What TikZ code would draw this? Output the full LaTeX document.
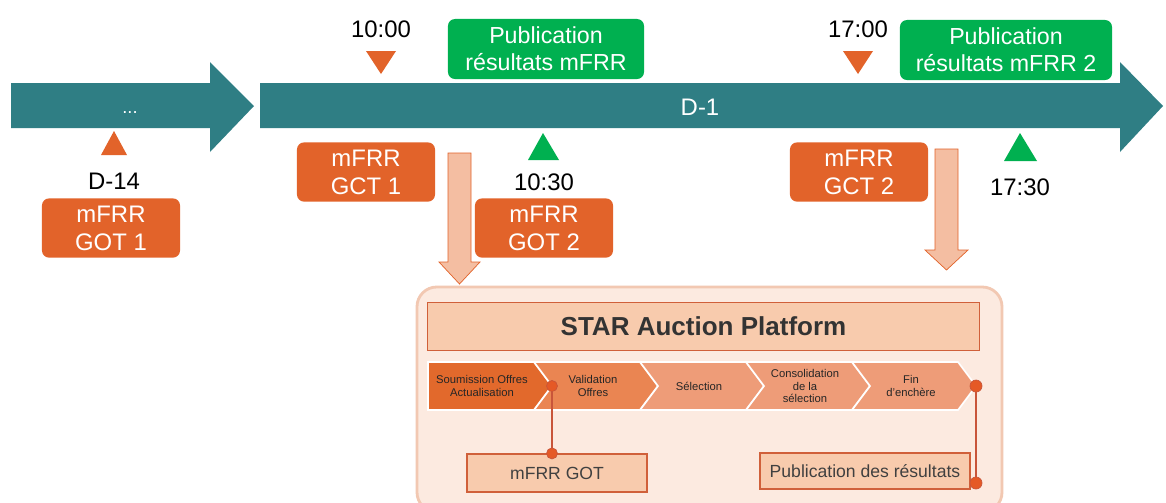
\documentclass[tikz,border=0pt]{standalone}
\usepackage{fontspec}
\setmainfont{Liberation Sans}
\usetikzlibrary{positioning}

\definecolor{barteal}{HTML}{2F7E84}
\definecolor{rteorange}{HTML}{E2632A}
\definecolor{rtegreen}{HTML}{00B050}
\definecolor{salmon}{HTML}{F4BEA2}
\definecolor{peach}{HTML}{FCEAE0}
\definecolor{peachedge}{HTML}{F2C8B2}
\definecolor{lightbox}{HTML}{F8CBAD}
\definecolor{boxedge}{HTML}{D0603A}
\definecolor{linkred}{HTML}{C8553A}
\definecolor{chevA}{HTML}{E2692C}
\definecolor{chevB}{HTML}{EA8552}
\definecolor{chevC}{HTML}{EE9C78}

\tikzset{
  timebar/.style={fill=barteal},
  bartext/.style={text=white, font=\fontsize{17}{19}\selectfont},
  orbox/.style={fill=rteorange, rounded corners=5pt, text=white, align=center,
    minimum width=3.45cm, minimum height=1.48cm, inner sep=0pt,
    font=\fontsize{17}{20}\selectfont},
  grbox/.style={fill=rtegreen, rounded corners=5pt, text=white, align=center,
    minimum height=1.5cm, inner sep=0pt, font=\fontsize{16.5}{19}\selectfont},
  hour/.style={font=\fontsize{17}{19}\selectfont},
  otri/.style={fill=rteorange},
  gtri/.style={fill=rtegreen},
  downarrow/.style={fill=salmon, draw=rteorange, line width=0.5pt},
  panel/.style={fill=peach, draw=peachedge, line width=2pt, rounded corners=14pt},
  platbox/.style={fill=lightbox, draw=boxedge, line width=0.8pt, font=\bfseries\fontsize{18.5}{20}\selectfont,
    minimum width=13.8cm, minimum height=1.18cm, inner sep=0pt, text=black!80},
  chevtext/.style={font=\fontsize{8}{9}\selectfont, align=center, text=black!85},
  smallbox/.style={fill=lightbox, draw=boxedge, line width=0.8pt, font=\fontsize{12.5}{14}\selectfont,
    inner sep=0pt, text=black!75},
  link/.style={draw=linkred, line width=1pt},
  dot/.style={fill=rteorange!90!red, draw=linkred, line width=0.5pt}
}

\begin{document}
\begin{tikzpicture}[x=0.025cm, y=-0.025cm]
  \useasboundingbox (0,0) rectangle (1166,502);
  \fill[white] (0,0) rectangle (1166,502);

  % time bars
  \fill[timebar] (11,83) -- (210,83) -- (210,62) -- (254,106) -- (210,152) -- (210,128) -- (11,128) -- cycle;
  \fill[timebar] (260,83) -- (1120,83) -- (1120,62) -- (1163,106) -- (1120,152) -- (1120,128) -- (260,128) -- cycle;
  \node[bartext, font=\fontsize{13}{15}\selectfont] (dots) at (130,113) {...};
  \node[bartext] (dmone) at (700,107) {D-1};

  % milestones above the bar
  \node[hour] (tenam) at (381,29) {10:00};
  \fill[otri] (366,51) -- (396,51) -- (381,74) -- cycle;
  \node[hour] (fivepm) at (858,29) {17:00};
  \fill[otri] (843,51) -- (873,51) -- (858,74) -- cycle;
  \node[grbox, minimum width=4.9cm] (pubone) at (546,49) {Publication\\résultats mFRR};
  \node[grbox, minimum width=5.3cm] (pubtwo) at (1006,50) {Publication\\résultats mFRR 2};

  % milestones below the bar
  \fill[otri] (101,155) -- (127,155) -- (114,131) -- cycle;
  \node[hour] (dfourteen) at (114,181) {D-14};
  \node[orbox] (gotone) at (111,228) {mFRR\\GOT 1};
  \node[orbox] (gctone) at (366,172) {mFRR\\GCT 1};
  \fill[gtri] (528,160) -- (559,160) -- (543,133) -- cycle;
  \node[hour] (tenthirty) at (544,182) {10:30};
  \node[orbox] (gottwo) at (544,228) {mFRR\\GOT 2};
  \node[orbox] (gcttwo) at (859,172) {mFRR\\GCT 2};
  \fill[gtri] (1004,161) -- (1037,161) -- (1020,133) -- cycle;
  \node[hour] (fivethirty) at (1020,187) {17:30};

  % platform
  \draw[panel] (417,287) rectangle (1002,512);
  \node[platbox] (star) at (703.5,326.5) {STAR Auction Platform};
  \foreach \i/\col in {0/chevA,1/chevB,2/chevC,3/chevC,4/chevC} {
    \pgfmathsetmacro{\s}{428+106*\i}
    \ifnum\i=0
      \fill[\col, draw=white, line width=1.2pt] (\s,362) -- (\s+106,362) -- (\s+124,386) -- (\s+106,410) -- (\s,410) -- cycle;
    \else
      \fill[\col, draw=white, line width=1.2pt] (\s,362) -- (\s+106,362) -- (\s+124,386) -- (\s+106,410) -- (\s,410) -- (\s+18,386) -- cycle;
    \fi
  }
  \node[chevtext] (stepone) at (482,386) {Soumission Offres\\Actualisation};
  \node[chevtext] (steptwo) at (593,386) {Validation\\Offres};
  \node[chevtext] (stepthree) at (699,386) {Sélection};
  \node[chevtext] (stepfour) at (805,386) {Consolidation\\de la\\sélection};
  \node[chevtext] (stepfive) at (911,386) {Fin\\d'enchère};
  \coordinate (tipone) at (552,386);
  \coordinate (tipfive) at (976,386);

  \node[smallbox, minimum width=4.5cm, minimum height=0.95cm] (mgot) at (557,473) {mFRR GOT};
  \node[smallbox, minimum width=5.25cm, minimum height=0.9cm] (pubres) at (865,471) {Publication des résultats};
  \coordinate (resend) at (976,483);

  \draw[link] (tipone) -- (tipone |- mgot.north);
  \fill[dot] (tipone) circle (5.5);
  \fill[dot] (tipone |- mgot.north) circle (5.5);
  \draw[link] (tipfive) -- (resend);
  \fill[dot] (tipfive) circle (6);
  \fill[dot] (resend) circle (6);

  % arrows towards the platform
  \draw[downarrow] (448,153) -- (471,153) -- (471,262) -- (480,262) -- (459.5,284) -- (439,262) -- (448,262) -- cycle;
  \draw[downarrow] (935,149) -- (958,149) -- (958,250) -- (968,250) -- (946.5,270) -- (925,250) -- (935,250) -- cycle;
\end{tikzpicture}
\end{document}
